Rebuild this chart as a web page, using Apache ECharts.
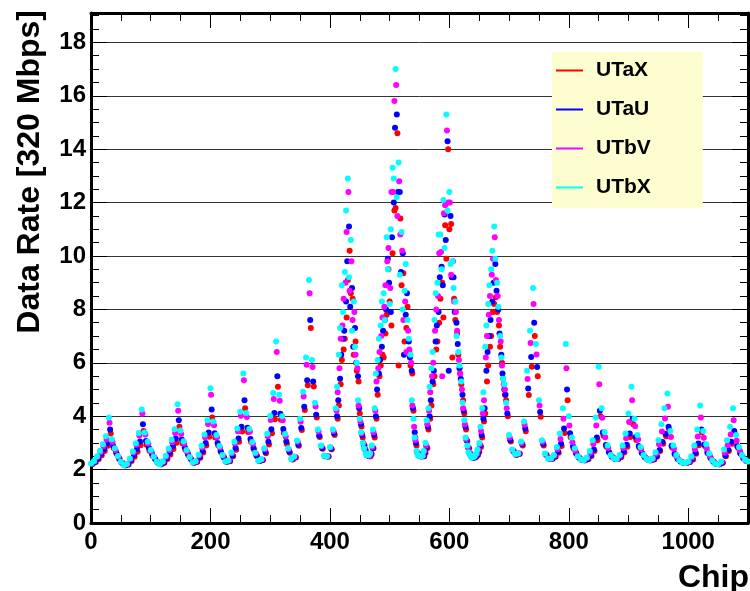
<!DOCTYPE html>
<html lang="en">
<head>
  <meta charset="UTF-8">
  <title>UT data rate per chip</title>
  <style>
    #container, html, body {
      margin: 0;
      padding: 0;
      width: 750px;
      height: 591px;
      background: #fff;
    }
  </style>
</head>
<body>
  <div id="container"></div>
</body>
<script src="https://cdn.jsdelivr.net/npm/echarts@6/dist/echarts.min.js"></script>
<script>
  // chips are read every 5th chip, each layer shifted by one chip
  var chipStep = 5
  var coreFirstChip = 412
  var layerNames = ['UTaX', 'UTaU', 'UTbV', 'UTbX']
  var layerChipOffset = [3, 2, 1, 0]

  // data rate [320 Mbps] at chips 0, 5, 10 ... 1100
  var utaxRate = [
    2.22, 2.28, 2.4, 2.54, 2.7, 2.89, 3.35, 2.81, 2.59, 2.39,
    2.24, 2.16, 2.19, 2.32, 2.48, 2.67, 2.91, 3.45, 2.93, 2.71,
    2.52, 2.38, 2.25, 2.2, 2.26, 2.4, 2.57, 2.77, 3.01, 3.6,
    2.99, 2.74, 2.54, 2.38, 2.26, 2.29, 2.44, 2.64, 2.9, 3.23,
    3.95, 3.2, 2.9, 2.64, 2.44, 2.29, 2.31, 2.5, 2.74, 3.04,
    3.43, 4.3, 3.41, 3.04, 2.75, 2.5, 2.32, 2.36, 2.61, 2.94,
    3.36, 3.89, 5.1, 3.87, 3.37, 2.96, 2.63, 2.38, 2.45, 2.89,
    3.48, 4.23, 5.16, 7.3, 5.11, 3.95, 3.22, 2.78, 2.5, 2.49,
    2.76, 3.3, 3.9, 5.2, 6.5, 7.7, 10.2, 8.4, 6.8, 5.3,
    3.6, 2.9, 2.55, 2.5, 2.8, 3.9, 5.5, 6.3, 7.1, 9.5,
    7.4, 11.7, 14.6, 11.4, 9.35, 7.3, 6.4, 5.6, 3.2, 2.6,
    2.5, 2.5, 2.8, 3.9, 5.2, 6.5, 7.5, 9.0, 11.15, 14.0,
    11.2, 8.4, 7.1, 5.6, 4.6, 3.5, 2.8, 2.5, 2.45, 2.55,
    2.85, 3.8, 5.3, 6.6, 7.9, 8.45, 7.4, 6.0, 4.8, 4.0,
    3.05, 2.68, 2.56, 2.59, 2.9, 3.44, 4.79, 5.85, 7.0, 5.5,
    3.98, 2.9, 2.54, 2.41, 2.41, 2.48, 2.63, 2.88, 3.37, 4.6,
    3.21, 2.79, 2.58, 2.43, 2.37, 2.35, 2.4, 2.51, 2.7, 3.1,
    4.0, 3.27, 2.86, 2.63, 2.47, 2.41, 2.4, 2.47, 2.64, 2.86,
    3.22, 3.7, 3.11, 2.82, 2.6, 2.45, 2.38, 2.35, 2.38, 2.49,
    2.7, 2.97, 3.25, 3.5, 2.83, 2.56, 2.39, 2.3, 2.26, 2.25,
    2.28, 2.38, 2.59, 2.91, 3.4, 2.88, 2.61, 2.42, 2.28, 2.21,
    2.2, 2.26, 2.5, 2.7, 2.97, 3.35, 2.83, 2.58, 2.42, 2.32,
    2.28
  ]
  var utauRate = [
    2.22, 2.29, 2.42, 2.58, 2.76, 2.98, 3.5, 2.89, 2.64, 2.42,
    2.26, 2.16, 2.19, 2.35, 2.54, 2.77, 3.05, 3.7, 3.07, 2.81,
    2.59, 2.41, 2.27, 2.2, 2.27, 2.43, 2.63, 2.87, 3.16, 3.85,
    3.13, 2.84, 2.6, 2.41, 2.26, 2.29, 2.47, 2.7, 3.0, 3.39,
    4.25, 3.36, 3.0, 2.7, 2.47, 2.29, 2.32, 2.53, 2.81, 3.16,
    3.6, 4.6, 3.57, 3.15, 2.81, 2.53, 2.32, 2.36, 2.66, 3.04,
    3.51, 4.12, 5.5, 4.09, 3.52, 3.05, 2.67, 2.39, 2.46, 2.93,
    3.56, 4.35, 5.35, 7.6, 5.3, 4.05, 3.27, 2.8, 2.5, 2.49,
    2.78, 3.35, 4.0, 5.4, 6.9, 8.3, 11.1, 8.8, 7.3, 5.5,
    3.7, 2.9, 2.55, 2.5, 2.8, 4.0, 5.6, 6.6, 7.6, 9.9,
    7.9, 12.0, 15.3, 12.4, 10.1, 7.8, 6.8, 5.7, 3.4, 2.6,
    2.5, 2.5, 2.85, 4.0, 5.3, 6.8, 7.9, 9.6, 11.55, 14.3,
    11.5, 9.2, 7.5, 5.8, 4.8, 3.6, 2.8, 2.5, 2.45, 2.55,
    2.9, 3.9, 5.7, 7.0, 8.3, 9.7, 8.0, 6.3, 5.0, 4.1,
    3.1, 2.7, 2.56, 2.59, 2.95, 3.54, 5.04, 6.22, 7.5, 5.84,
    4.16, 2.96, 2.56, 2.42, 2.41, 2.49, 2.67, 2.97, 3.54, 5.0,
    3.36, 2.87, 2.62, 2.44, 2.37, 2.35, 2.4, 2.54, 2.75, 3.2,
    4.2, 3.39, 2.92, 2.66, 2.48, 2.41, 2.4, 2.48, 2.68, 2.93,
    3.35, 3.9, 3.22, 2.88, 2.63, 2.46, 2.38, 2.35, 2.39, 2.5,
    2.73, 3.03, 3.33, 3.6, 2.89, 2.59, 2.41, 2.3, 2.26, 2.25,
    2.28, 2.4, 2.63, 2.98, 3.5, 2.94, 2.64, 2.44, 2.29, 2.21,
    2.2, 2.26, 2.53, 2.74, 3.04, 3.45, 2.88, 2.61, 2.43, 2.33,
    2.28
  ]
  var utbvRate = [
    2.23, 2.31, 2.47, 2.65, 2.87, 3.13, 3.75, 3.03, 2.73, 2.47,
    2.27, 2.16, 2.21, 2.4, 2.64, 2.93, 3.28, 4.1, 3.31, 2.98,
    2.69, 2.47, 2.28, 2.21, 2.29, 2.48, 2.73, 3.02, 3.37, 4.2,
    3.33, 2.97, 2.68, 2.45, 2.27, 2.3, 2.53, 2.83, 3.21, 3.71,
    4.8, 3.66, 3.21, 2.83, 2.52, 2.3, 2.33, 2.61, 2.98, 3.44,
    4.02, 5.35, 3.97, 3.42, 2.97, 2.6, 2.33, 2.38, 2.76, 3.25,
    3.86, 4.64, 6.4, 4.58, 3.85, 3.24, 2.76, 2.4, 2.48, 3.04,
    3.79, 4.74, 5.93, 8.6, 5.84, 4.36, 3.43, 2.87, 2.52, 2.5,
    2.83, 3.45, 4.2, 5.8, 7.4, 9.0, 12.4, 9.8, 7.9, 5.8,
    3.8, 3.0, 2.6, 2.5, 2.85, 4.2, 5.8, 7.0, 8.1, 9.8,
    8.8, 12.4, 16.4, 12.8, 10.2, 8.3, 7.2, 6.0, 3.6, 2.65,
    2.5, 2.52, 2.9, 4.2, 5.5, 7.2, 8.5, 10.15, 11.6, 14.7,
    12.0, 9.8, 7.9, 6.1, 5.0, 3.7, 2.85, 2.5, 2.47, 2.58,
    2.95, 4.1, 6.2, 7.8, 9.3, 10.7, 8.5, 6.8, 5.2, 4.3,
    3.2, 2.72, 2.57, 2.6, 3.0, 3.68, 5.39, 6.74, 8.2, 6.31,
    4.4, 3.04, 2.58, 2.42, 2.42, 2.52, 2.76, 3.15, 3.9, 5.8,
    3.65, 3.02, 2.71, 2.47, 2.37, 2.35, 2.43, 2.63, 2.96, 3.65,
    5.2, 3.94, 3.21, 2.81, 2.52, 2.42, 2.4, 2.52, 2.81, 3.17,
    3.78, 4.6, 3.62, 3.13, 2.76, 2.51, 2.39, 2.35, 2.41, 2.59,
    2.95, 3.43, 3.91, 4.35, 3.22, 2.78, 2.49, 2.33, 2.27, 2.25,
    2.29, 2.45, 2.76, 3.24, 3.95, 3.19, 2.79, 2.52, 2.32, 2.22,
    2.2, 2.28, 2.63, 2.91, 3.31, 3.85, 3.08, 2.72, 2.49, 2.35,
    2.29
  ]
  var utbxRate = [
    2.23, 2.32, 2.5, 2.71, 2.95, 3.25, 3.95, 3.14, 2.8, 2.51,
    2.29, 2.16, 2.21, 2.42, 2.68, 2.99, 3.37, 4.25, 3.39, 3.04,
    2.73, 2.49, 2.29, 2.2, 2.3, 2.52, 2.79, 3.12, 3.51, 4.45,
    3.46, 3.06, 2.73, 2.47, 2.27, 2.31, 2.56, 2.89, 3.31, 3.85,
    5.05, 3.8, 3.3, 2.88, 2.55, 2.3, 2.34, 2.64, 3.04, 3.54,
    4.17, 5.6, 4.12, 3.52, 3.03, 2.63, 2.33, 2.39, 2.8, 3.34,
    4.01, 4.87, 6.8, 4.8, 4.0, 3.33, 2.8, 2.4, 2.49, 3.09,
    3.9, 4.92, 6.2, 9.1, 6.1, 4.5, 3.5, 2.9, 2.52, 2.5,
    2.85, 3.5, 4.3, 6.3, 8.9, 9.4, 12.9, 10.6, 8.3, 6.0,
    3.9, 3.0, 2.6, 2.55, 2.9, 4.3, 6.1, 7.4, 8.6, 10.7,
    8.2, 13.3, 17.0, 13.5, 10.9, 8.7, 7.6, 6.3, 3.9, 2.7,
    2.5, 2.52, 3.0, 4.3, 5.8, 7.6, 9.0, 10.8, 12.1, 15.3,
    12.4, 9.8, 8.3, 6.4, 5.3, 3.85, 2.9, 2.55, 2.47, 2.6,
    3.0, 4.3, 6.6, 8.2, 9.5, 11.1, 9.0, 7.0, 5.4, 4.5,
    3.3, 2.75, 2.58, 2.6, 3.05, 3.8, 5.7, 7.2, 8.8, 6.7,
    4.6, 3.1, 2.6, 2.42, 2.42, 2.55, 2.85, 3.35, 4.3, 6.7,
    4.0, 3.2, 2.8, 2.5, 2.38, 2.35, 2.45, 2.7, 3.1, 3.95,
    5.85, 4.3, 3.4, 2.9, 2.55, 2.42, 2.4, 2.55, 2.9, 3.35,
    4.1, 5.1, 3.9, 3.3, 2.85, 2.55, 2.4, 2.35, 2.42, 2.65,
    3.1, 3.7, 4.3, 4.85, 3.45, 2.9, 2.55, 2.35, 2.27, 2.25,
    2.3, 2.5, 2.9, 3.5, 4.4, 3.45, 2.95, 2.6, 2.35, 2.22,
    2.2, 2.3, 2.75, 3.1, 3.6, 4.3, 3.3, 2.85, 2.55, 2.38,
    2.3
  ]

  // busy centre of the detector, chips 412, 417 ... 692
  var utaxCore = [
    4.4, 6.1, 6.9, 9.1, 8.6, 6.3, 5.7, 4.1, 3.2, 2.72,
    2.52, 2.58, 3.2, 4.8, 5.9, 6.2, 7.8, 8.3, 10.1, 11.8,
    5.9, 8.9, 6.8, 8.1, 5.9, 4.2, 2.9, 2.52, 2.5, 2.62,
    3.5, 4.4, 5.5, 6.8, 8.4, 7.7, 9.9, 11.0, 6.2, 7.6,
    6.3, 5.2, 4.1, 3.05, 2.6, 2.45, 2.48, 2.66, 3.2, 4.1,
    5.9, 7.0, 8.2, 7.9, 6.6, 5.4, 4.6
  ]
  var utauCore = [
    4.6, 6.3, 7.2, 9.8, 8.1, 6.6, 6.0, 4.3, 3.3, 2.75,
    2.52, 2.58, 3.3, 5.0, 6.1, 7.2, 8.0, 9.0, 10.7, 14.8,
    12.4, 9.4, 6.3, 8.6, 6.2, 4.3, 3.0, 2.52, 2.5, 2.65,
    3.6, 4.6, 5.7, 7.4, 9.2, 8.9, 10.6, 5.7, 9.2, 7.9,
    6.7, 5.4, 4.2, 3.1, 2.6, 2.45, 2.48, 2.68, 3.3, 4.3,
    6.4, 7.6, 9.0, 8.7, 7.1, 5.6, 4.8
  ]
  var utbvCore = [
    4.9, 6.9, 8.4, 10.9, 8.7, 7.6, 6.3, 4.4, 3.35, 2.78,
    2.55, 2.6, 3.4, 5.3, 6.4, 7.7, 8.9, 10.3, 12.4, 15.8,
    11.5, 10.8, 7.6, 6.4, 6.5, 4.4, 3.1, 2.55, 2.5, 2.68,
    3.7, 4.9, 6.0, 8.0, 10.1, 5.5, 11.9, 12.0, 9.3, 8.3,
    7.2, 5.6, 4.3, 3.15, 2.63, 2.45, 2.5, 2.72, 3.45, 4.6,
    7.0, 8.5, 9.9, 9.1, 7.6, 5.9, 5.0
  ]
  var utbxCore = [
    5.1, 7.3, 7.9, 11.7, 9.2, 7.2, 6.6, 4.6, 3.4, 2.8,
    2.55, 2.6, 3.5, 5.6, 6.9, 8.3, 7.6, 9.5, 11.0, 12.9,
    12.2, 9.3, 8.0, 9.7, 6.9, 4.6, 3.2, 2.55, 2.5, 2.7,
    3.85, 5.1, 6.4, 8.6, 10.8, 9.5, 10.3, 11.7, 9.7, 8.8,
    7.0, 5.9, 4.5, 3.2, 2.65, 2.45, 2.5, 2.75, 3.6, 4.9,
    7.4, 8.9, 10.2, 9.9, 8.1, 6.2, 5.2
  ]

  var mainRates = [utaxRate, utauRate, utbvRate, utbxRate]
  var coreRates = [utaxCore, utauCore, utbvCore, utbxCore]
  var layerColors = ['#ff0000', '#0000ff', '#ff00ff', '#00ffff']

  var font = '"Liberation Sans", Arial, Helvetica, sans-serif'

  function toPoints (values, firstChip, layer) {
    return values.map(function (v, k) {
      return [firstChip + k * chipStep + layerChipOffset[layer], v]
    })
  }

  function frameAxis (dim, position, interval, tickLen, major) {
    return {
      type: 'value',
      position: position,
      min: 0,
      max: dim === 'x' ? 1100 : 19.1,
      interval: interval,
      axisLine: { show: major, onZero: false, lineStyle: { color: '#000', width: 3 } },
      axisTick: { show: true, inside: true, length: tickLen, lineStyle: { color: '#000', width: 1 } },
      axisLabel: { show: false },
      splitLine: { show: false }
    }
  }

  var charts = echarts.init(document.querySelector('#container'), null, { renderer: 'canvas' })

  var plainNumber = function (v) { return String(v) }

  var xBottom = frameAxis('x', 'bottom', 200, 15, true)
  xBottom.axisLabel = {
    show: true, margin: 7, fontSize: 24, fontWeight: 'bold', color: '#000',
    fontFamily: font, showMaxLabel: false, formatter: plainNumber
  }
  var yLeft = frameAxis('y', 'left', 2, 16, true)
  yLeft.axisLabel = {
    show: true, margin: 5, fontSize: 24, fontWeight: 'bold', color: '#000',
    fontFamily: font, showMaxLabel: false, formatter: plainNumber
  }
  yLeft.splitLine = { show: true, lineStyle: { color: '#333', width: 1 } }

  var option = {
    animation: false,
    backgroundColor: '#fff',
    grid: { left: 91, right: 2, top: 13, bottom: 68, outerBoundsMode: 'none' },
    xAxis: [
      xBottom,
      frameAxis('x', 'bottom', 50, 8, false),
      frameAxis('x', 'top', 200, 15, true),
      frameAxis('x', 'top', 50, 8, false)
    ],
    yAxis: [
      yLeft,
      frameAxis('y', 'left', 0.5, 8, false),
      frameAxis('y', 'right', 2, 16, true),
      frameAxis('y', 'right', 0.5, 8, false)
    ],
    legend: {
      orient: 'vertical',
      left: 552,
      top: 52,
      padding: [8, 52, 10, 4],
      backgroundColor: '#fdfdd0',
      icon: 'rect',
      itemWidth: 27,
      itemHeight: 2,
      itemGap: 18,
      selectedMode: false,
      textStyle: {
        fontSize: 21, fontWeight: 'bold', color: '#000', fontFamily: font,
        lineHeight: 21, padding: [0, 0, 0, 8]
      },
      data: layerNames
    },
    graphic: [
      {
        type: 'text', x: 30, y: 10, rotation: Math.PI / 2,
        style: {
          text: 'Data Rate [320 Mbps]', fill: '#000',
          font: 'bold 32px ' + font, textAlign: 'right', textVerticalAlign: 'middle'
        }
      },
      {
        type: 'text', x: 749, y: 578,
        style: {
          text: 'Chip', fill: '#000',
          font: 'bold 32px ' + font, textAlign: 'right', textVerticalAlign: 'middle'
        }
      }
    ],
    series: layerNames.map(function (name, s) {
      return {
        name: name,
        type: 'scatter',
        xAxisIndex: 0,
        yAxisIndex: 0,
        symbol: 'circle',
        symbolSize: 6,
        clip: true,
        silent: true,
        itemStyle: { color: layerColors[s], opacity: 1 },
        data: toPoints(mainRates[s], 0, s).concat(toPoints(coreRates[s], coreFirstChip, s))
      }
    })
  }
  charts.setOption(option)
</script>
</html>
